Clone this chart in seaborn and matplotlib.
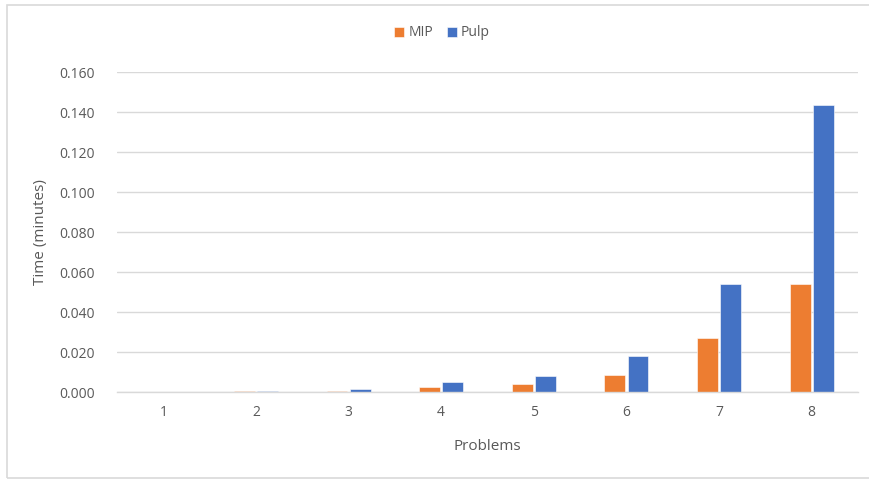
import pandas as pd
import seaborn as sns
import matplotlib.pyplot as plt
from matplotlib.patches import Rectangle
from matplotlib.ticker import FormatStrFormatter

# values
problems = ["1", "2", "3", "4", "5", "6", "7", "8"]
mip_times = [0.0001, 0.0005, 0.0006, 0.0023, 0.0040, 0.0087, 0.0268, 0.0538]
pulp_times = [0.0001, 0.0006, 0.0015, 0.0050, 0.0080, 0.0180, 0.0540, 0.1437]

df = pd.DataFrame({
    "Problems": problems * 2,
    "Time": mip_times + pulp_times,
    "Solver": ["MIP"] * len(problems) + ["Pulp"] * len(problems),
})

sns.set_style("white")
plt.rcParams["font.family"] = ["Open Sans", "DejaVu Sans"]
text_color = "#595959"
grid_color = "#D9D9D9"

fig = plt.figure(figsize=(8.7, 4.79), dpi=100)
ax = fig.add_axes([117 / 870, 87 / 479, 741 / 870, 320 / 479])

sns.barplot(data=df, x="Problems", y="Time", hue="Solver",
            palette={"MIP": "#ED7D31", "Pulp": "#4472C4"}, saturation=1,
            width=0.5, gap=0.1, ax=ax, errorbar=None,
            edgecolor="white", linewidth=0.4)

ax.set_ylim(0, 0.16)
ax.set_xlim(-0.5, 7.5)
ax.set_yticks([i * 0.02 for i in range(9)])
ax.yaxis.set_major_formatter(FormatStrFormatter("%.3f"))
ax.yaxis.grid(True, color=grid_color, linewidth=1)
ax.set_axisbelow(True)
for side in ["top", "right", "left"]:
    ax.spines[side].set_visible(False)
ax.spines["bottom"].set_color(grid_color)
ax.spines["bottom"].set_linewidth(1)
ax.tick_params(axis="both", length=0, colors=text_color, labelsize=10)
ax.tick_params(axis="y", pad=16)
ax.tick_params(axis="x", pad=9)

ax.set_xlabel("Problems", color=text_color, fontsize=11, labelpad=14)
ax.set_ylabel("Time (minutes)", color=text_color, fontsize=11, labelpad=8)

handles, labels = ax.get_legend_handles_labels()
ax.get_legend().remove()
fig.legend(handles, labels, loc="center", bbox_to_anchor=(0.508, 1 - 33 / 479),
           ncol=2, frameon=False, fontsize=10, labelcolor=text_color,
           handlelength=0.7, handleheight=0.7, handletextpad=0.3,
           columnspacing=1.0)

# light frame around the chart area
fig.patches.append(Rectangle((7 / 870, 1 / 479), 1.0, 473 / 479,
                             transform=fig.transFigure, fill=False,
                             edgecolor=grid_color, linewidth=1.2))

fig.savefig("out.png", dpi=100)
